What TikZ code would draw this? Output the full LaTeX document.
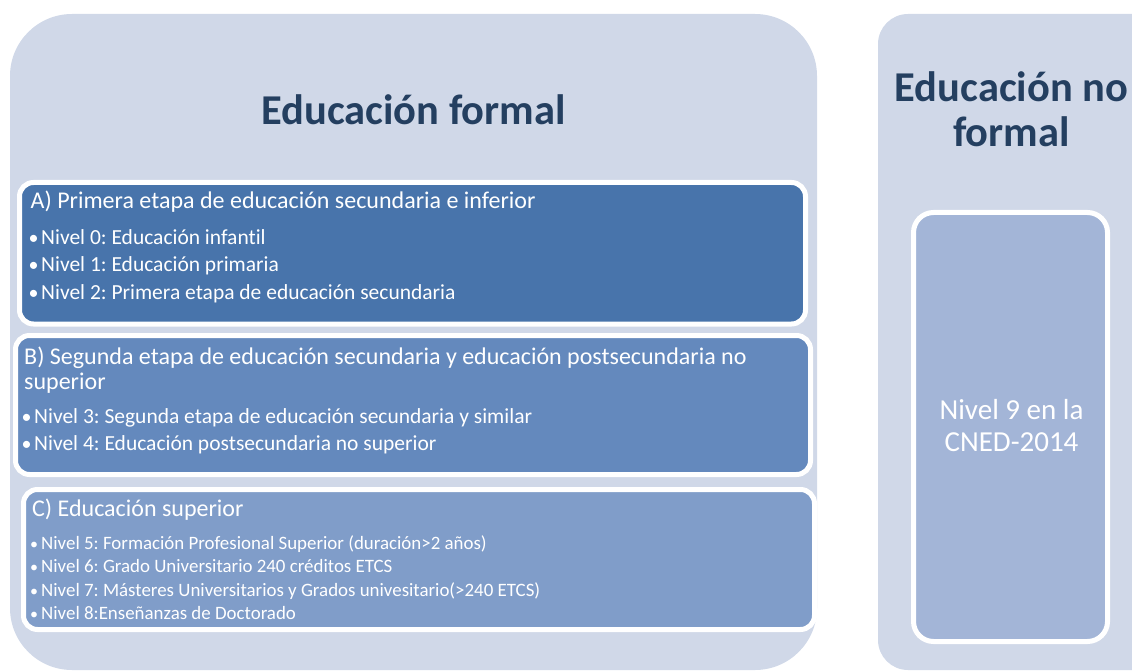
\documentclass[tikz,border=0pt]{standalone}
\usepackage{fontspec}
\setmainfont{Carlito}[Ligatures=NoCommon]
\definecolor{panelc}{HTML}{D0D8E8}
\definecolor{boxA}{HTML}{4874AB}
\definecolor{boxB}{HTML}{6489BD}
\definecolor{boxC}{HTML}{809DC9}
\definecolor{boxR}{HTML}{A3B5D7}
\definecolor{titlec}{HTML}{243F60}
\begin{document}
\frenchspacing
\begin{tikzpicture}[x=1pt,y=-1pt,
  panelbox/.style={rectangle, fill=panelc, draw=none, inner sep=0pt, outer sep=0pt},
  innerbox/.style={rectangle, draw=white, line width=5pt, rounded corners=14pt, inner sep=0pt, outer sep=0pt},
  titletext/.style={text=titlec, font=\fontsize{42.5}{46}\selectfont\bfseries, inner sep=0pt, anchor=base},
  headtext/.style={text=white, font=\fontsize{24}{27}\selectfont, inner sep=0pt, anchor=base west},
  itemtext/.style={text=white, font=\fontsize{21.5}{24}\selectfont, inner sep=0pt, anchor=base west},
  itembullet/.style={text=white, font=\fontsize{20}{24}\selectfont, inner sep=0pt, anchor=base},
  smallitem/.style={text=white, font=\fontsize{18.9}{21}\selectfont, inner sep=0pt, anchor=base west},
  smallbullet/.style={text=white, font=\fontsize{16}{21}\selectfont, inner sep=0pt, anchor=base},
  righttext/.style={text=white, font=\fontsize{29}{32}\selectfont, inner sep=0pt, anchor=base}]
\useasboundingbox (0,0) rectangle (1132,671);
\clip (0,0) rectangle (1132,671);
% panels
\node[panelbox, rounded corners=62pt, minimum width=807pt, minimum height=656pt] (left) at (413.5,342) {};
\node[panelbox, rounded corners=30pt, minimum width=312pt, minimum height=656pt] (right) at (1034,342) {};
% inner boxes
\node[innerbox, fill=boxA, minimum width=786pt, minimum height=141.5pt] (boxa) at (412.5,253.25) {};
\node[innerbox, fill=boxB, minimum width=795pt, minimum height=139pt] (boxb) at (413,405) {};
\node[innerbox, fill=boxC, minimum width=791pt, minimum height=140pt] (boxc) at (419,559.5) {};
\node[innerbox, rounded corners=20pt, fill=boxR, minimum width=194pt, minimum height=429pt] (boxr) at (1010.5,427) {};
% titles
\node[titletext] (tformal) at (413.5,125) {Educación formal};
\node[titletext] (tnof1) at (1011.5,102) {Educación no};
\node[titletext] (tnof2) at (1011.5,147) {formal};
% box A
\node[headtext] (ha) at (30.5,208) {A) Primera etapa de educación secundaria e inferior};
\node[itembullet] (a1d) at (33.5,244) {•};
\node[itemtext] (a1) at (41,244) {Nivel 0: Educación infantil};
\node[itembullet] (a2d) at (33.5,271.5) {•};
\node[itemtext] (a2) at (41,271.5) {Nivel 1: Educación primaria};
\node[itembullet] (a3d) at (33.5,299) {•};
\node[itemtext] (a3) at (41,299) {Nivel 2: Primera etapa de educación secundaria};
% box B
\node[headtext] (hb1) at (24,364) {B) Segunda etapa de educación secundaria y educación postsecundaria no};
\node[headtext] (hb2) at (24,389) {superior};
\node[itembullet] (b1d) at (26.5,423) {•};
\node[itemtext] (b1) at (34,423) {Nivel 3: Segunda etapa de educación secundaria y similar};
\node[itembullet] (b2d) at (26.5,450.5) {•};
\node[itemtext] (b2) at (34,450.5) {Nivel 4: Educación postsecundaria no superior};
% box C
\node[headtext] (hc) at (32,516) {C) Educación superior};
\node[smallbullet] (c1d) at (34,549) {•};
\node[smallitem] (c1) at (41,549) {Nivel 5: Formación Profesional Superior (duración>2 años)};
\node[smallbullet] (c2d) at (34,572.5) {•};
\node[smallitem] (c2) at (41,572.5) {Nivel 6: Grado Universitario 240 créditos ETCS};
\node[smallbullet] (c3d) at (34,596) {•};
\node[smallitem] (c3) at (41,596) {Nivel 7: Másteres Universitarios y Grados univesitario(>240 ETCS)};
\node[smallbullet] (c4d) at (34,619.5) {•};
\node[smallitem] (c4) at (41,619.5) {Nivel 8:Enseñanzas de Doctorado};
% right box text
\node[righttext] (r1) at (1011.5,419) {Nivel 9 en la};
\node[righttext] (r2) at (1011.5,451) {CNED-2014};
\end{tikzpicture}
\end{document}
